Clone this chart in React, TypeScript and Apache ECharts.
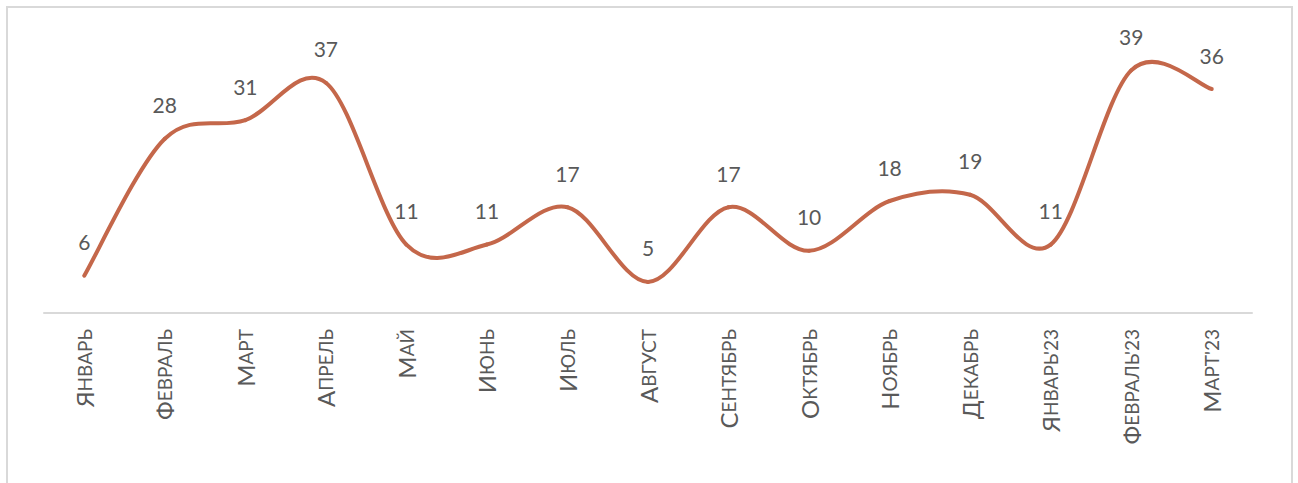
import React, { useEffect, useRef } from "react";
import * as echarts from "echarts";

const categories = [
  "Январь", "Февраль", "Март", "Апрель", "Май", "Июнь", "Июль", "Август",
  "Сентябрь", "Октябрь", "Ноябрь", "Декабрь", "Январь'23", "Февраль'23", "Март'23",
];
const values = [6, 28, 31, 37, 11, 11, 17, 5, 17, 10, 18, 19, 11, 39, 36];

const FONT = "Lato, 'Open Sans', sans-serif";
const LINE_COLOR = "#C4674A";
const TEXT_COLOR = "#595959";

export default function App() {
  const ref = useRef<HTMLDivElement>(null);
  useEffect(() => {
    if (!ref.current) return;
    const chart = echarts.init(ref.current, undefined, { renderer: "svg" });
    const n = values.length;
    const clampIdx = (k: number) => Math.max(0, Math.min(n - 1, k));
    chart.setOption({
      animation: false,
      backgroundColor: "#ffffff",
      grid: { left: 44, right: 46, top: 33, bottom: 170, containLabel: false },
      graphic: [
        {
          type: "rect",
          shape: { x: 7, y: 7, width: 1285, height: 520 },
          style: { fill: "none", stroke: "#D9D9D9", lineWidth: 2 },
          silent: true,
        },
      ],
      xAxis: {
        type: "category",
        data: categories,
        boundaryGap: true,
        axisLine: { show: true, lineStyle: { color: "#D9D9D9", width: 2 } },
        axisTick: { show: false },
        axisLabel: {
          rotate: 90,
          margin: 16,
          interval: 0,
          color: TEXT_COLOR,
          fontFamily: FONT,
          formatter: (v: string) => {
            const first = v.charAt(0);
            const rest = v.slice(1).toUpperCase();
            return `{a|${first}}{b|${rest}}`;
          },
          rich: {
            a: { fontSize: 24, fontFamily: FONT, color: TEXT_COLOR },
            b: { fontSize: 19, fontFamily: FONT, color: TEXT_COLOR },
          },
        },
      },
      yAxis: {
        type: "value",
        min: 0,
        max: 45,
        show: false,
        splitLine: { show: false },
      },
      series: [
        {
          type: "custom",
          clip: false,
          silent: true,
          data: values.map((v, i) => [i, v]),
          encode: { x: 0, y: 1 },
          renderItem: (params: any, api: any) => {
            const i = params.dataIndex;
            if (i >= n - 1) return null;
            const p = (k: number) => {
              const j = clampIdx(k);
              return api.coord([j, values[j]]);
            };
            const p0 = p(i - 1);
            const p1 = p(i);
            const p2 = p(i + 1);
            const p3 = p(i + 2);
            return {
              type: "bezierCurve",
              shape: {
                x1: p1[0],
                y1: p1[1],
                x2: p2[0],
                y2: p2[1],
                cpx1: p1[0] + (p2[0] - p0[0]) / 6,
                cpy1: p1[1] + (p2[1] - p0[1]) / 6,
                cpx2: p2[0] - (p3[0] - p1[0]) / 6,
                cpy2: p2[1] - (p3[1] - p1[1]) / 6,
              },
              style: {
                fill: "none",
                stroke: LINE_COLOR,
                lineWidth: 4,
                lineCap: "round",
              },
            };
          },
        },
        {
          type: "line",
          data: values,
          symbol: "circle",
          symbolSize: 1,
          showSymbol: true,
          silent: true,
          itemStyle: { color: "rgba(0,0,0,0)", borderWidth: 0 },
          lineStyle: { color: LINE_COLOR, width: 0, opacity: 0 },
          label: {
            show: true,
            position: "top",
            distance: 23,
            fontSize: 21,
            fontFamily: FONT,
            color: TEXT_COLOR,
          },
        },
      ],
    });
    return () => chart.dispose();
  }, []);
  return (
    <div
      ref={ref}
      style={{ position: "fixed", left: 0, top: 0, width: 1298, height: 483 }}
    />
  );
}
